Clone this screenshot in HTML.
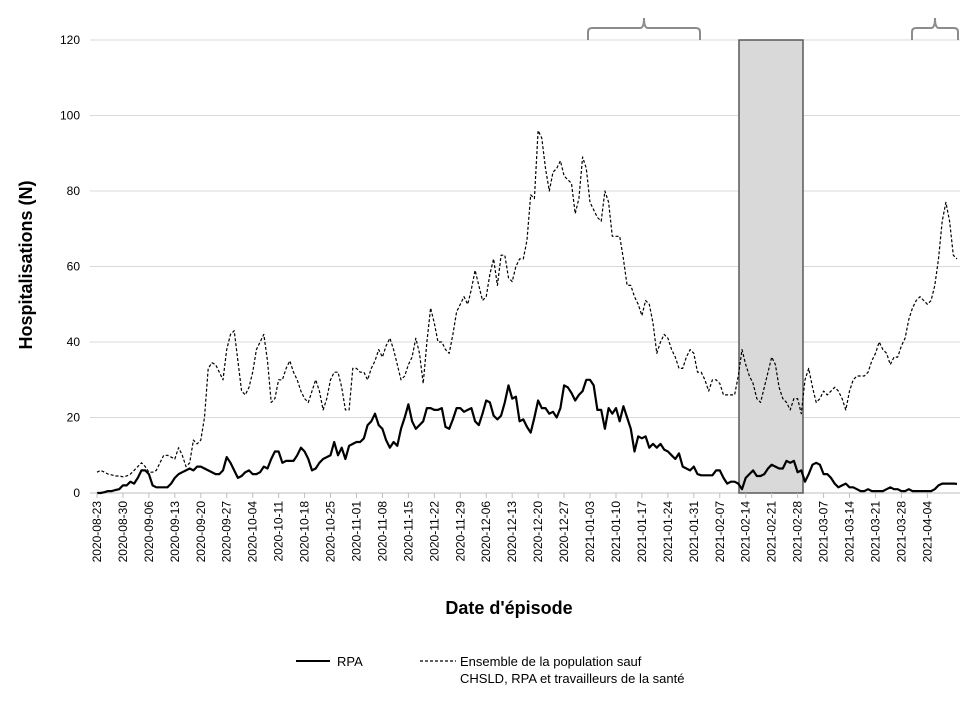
<!DOCTYPE html>
<html><head><meta charset="utf-8"><style>
body{margin:0;background:#fff;font-family:"Liberation Sans",sans-serif}
svg text{font-family:"Liberation Sans",sans-serif}
</style></head><body>
<svg id="chart" width="980" height="706" viewBox="0 0 980 706" xmlns="http://www.w3.org/2000/svg">
<g id="grid"></g>
<rect x="739" y="40" width="64" height="453" fill="#d9d9d9" stroke="#595959" stroke-width="1.5"/>
<path d="M588,40 V32 Q588,28 592,28 H640 Q644,28 644,18 Q644,28 648,28 H696 Q700,28 700,32 V40" fill="none" stroke="#8c8c8c" stroke-width="2"/>
<path d="M912,40 V32 Q912,28 916,28 H931 Q935,28 935,18 Q935,28 939,28 H954 Q958,28 958,32 V40" fill="none" stroke="#8c8c8c" stroke-width="2"/>
<g id="series"></g>
<g id="xlabels"></g>
<text transform="translate(32,265) rotate(-90)" text-anchor="middle" font-size="18" font-weight="bold">Hospitalisations (N)</text>
<text x="509" y="614" text-anchor="middle" font-size="18" font-weight="bold">Date d'épisode</text>
<g>
<line x1="296" y1="661" x2="330" y2="661" stroke="#000" stroke-width="2"/>
<text x="337" y="666" font-size="13">RPA</text>
<line x1="420" y1="661" x2="456" y2="661" stroke="#000" stroke-width="1.2" stroke-dasharray="3,2"/>
<text x="460" y="666" font-size="13">Ensemble de la population sauf</text>
<text x="460" y="683" font-size="13">CHSLD, RPA et travailleurs de la santé</text>
</g>
</svg>
<script>
const yTicks=[0,20,40,60,80,100,120];
const xTickLabels=["2020-08-23","2020-08-30","2020-09-06","2020-09-13","2020-09-20","2020-09-27","2020-10-04","2020-10-11","2020-10-18","2020-10-25","2020-11-01","2020-11-08","2020-11-15","2020-11-22","2020-11-29","2020-12-06","2020-12-13","2020-12-20","2020-12-27","2021-01-03","2021-01-10","2021-01-17","2021-01-24","2021-01-31","2021-02-07","2021-02-14","2021-02-21","2021-02-28","2021-03-07","2021-03-14","2021-03-21","2021-03-28","2021-04-04"];
const rpa=[0,0,0.2,0.5,0.5,0.8,1, 2,2,3,2.5,4,6,6, 5,2,1.5,1.5,1.5,1.5,2.5, 4,5,5.5,6,6.5,6,7, 7,6.5,6,5.5,5,5,6, 9.5,8,6,4,4.5,5.5,6, 5,5,5.5,7,6.5,9,11, 11,8,8.5,8.5,8.5,10,12, 11,9,6,6.5,8,9,9.5, 10,13.5,10,12,9,12.5,13, 13.5,13.5,14.5,18,19,21,18, 17,14,12,13.5,12.5,17,20, 23.5,19,17,18,19,22.5,22.5, 22,22,22.5,17.5,17,19.5,22.5, 22.5,21.5,22,22.5,19,18,21, 24.5,24,20.5,19.5,20.5,24,28.5, 25,25.5,19,19.5,17.5,16,20, 24.5,22.5,22.5,21,21.5,20,22.5, 28.5,28,26.5,24.5,26,27,30, 30,28.5,22,22,17,22.5,21, 22.5,19,23,20,17,11,15, 14.5,15,12,13,12,13,11.5, 11,10,9,10.5,7,6.5,6, 7,5,4.7,4.7,4.7,4.7,6, 6,4,2.5,3,3,2.5,1, 4,5,6,4.5,4.5,5,6.5, 7.5,7,6.5,6.5,8.5,8,8.5, 5.5,6,3,5,7.5,8,7.5, 5,5,4,2.5,1.5,2,2.5, 1.5,1.5,1,0.5,0.5,1,0.5, 0.5,0.5,0.5,1,1.5,1,1, 0.5,0.5,1,0.5,0.5,0.5,0.5, 0.5,0.5,1,2,2.5,2.5,2.5,2.5,2.4];
const population=[5.5,6,5.5,5,4.8,4.5,4.5, 4.3,4.5,5,6,7,8,7, 5.5,5.5,6,8,10,10,9.5, 9,12,10,7,8,14,13, 14,20,33,34.5,34,32,30, 38,42,43,35,27,26,28, 32,38,40,42,35,24,25, 30,30,33,35,32,30,27, 25,24,27,30,27,22,25, 30,32,32,28,22,22,33, 33,32,32,30,33,35,38, 36,39,41,38,34,30,31, 34,36,41,37,29,40,49, 45,40,40,38,37,42,48, 50,52,50,54,59,55,51, 52,58,62,55,63,63,57, 56,60,62,62,67,79,78, 96,94,86,80,85,86,88, 84,83,82,74,78,89,86, 77,75,73,72,80,77,68, 68,68,62,55,55,52,50, 47,51,50,45,37,40,42, 41,38,36,33,33,36,38, 37,32,32,30,27,30,30, 29,26,26,26,26,31,38, 34,31,29,25,24,28,32, 36,34,28,25,24,22,25, 25,21,30,33,28,24,25, 27,26,27,28,27,25,22, 27,30,31,31,31,32,35, 37,40,38,37,34,36,36, 39,41,46,49,51,52,51, 50,51,55,62,72,77,72,63,62];
const NS="http://www.w3.org/2000/svg";
const xS=d=>97+d*3.707;
const yS=v=>493-v*453/120;
const grid=document.getElementById('grid');
yTicks.forEach(t=>{
 const l=document.createElementNS(NS,'line');
 
 
 l.setAttribute('x1',90);l.setAttribute('x2',960);l.setAttribute('y1',yS(t));l.setAttribute('y2',yS(t));
 l.setAttribute('stroke',t===0?'#bfbfbf':'#d9d9d9');l.setAttribute('stroke-width',1);
 grid.appendChild(l);
 const tx=document.createElementNS(NS,'text');
 
 
 tx.setAttribute('x',80);tx.setAttribute('y',yS(t)+4);tx.setAttribute('text-anchor','end');tx.setAttribute('font-size','12');
 tx.textContent=t;grid.appendChild(tx);
});
const xl=document.getElementById('xlabels');
xTickLabels.forEach((s,i)=>{
 const x=xS(i*7);
 const tk=document.createElementNS(NS,'line');
 
 
 tk.setAttribute('x1',x);tk.setAttribute('x2',x);tk.setAttribute('y1',493);tk.setAttribute('y2',498);tk.setAttribute('stroke','#bfbfbf');
 xl.appendChild(tk);
 const tx=document.createElementNS(NS,'text');
 
 
 tx.setAttribute('transform',`translate(${x+4},501) rotate(-90)`);tx.setAttribute('text-anchor','end');tx.setAttribute('font-size','12');
 tx.textContent=s;xl.appendChild(tx);
});
const sg=document.getElementById('series');
function line(arr,name,w,dash){
 const p=document.createElementNS(NS,'polyline');
 
 
 p.setAttribute('points',arr.map((v,i)=>xS(i).toFixed(1)+','+yS(v).toFixed(1)).join(' '));
 p.setAttribute('fill','none');p.setAttribute('stroke','#000');p.setAttribute('stroke-width',w);
 p.setAttribute('stroke-linejoin','round');
 if(dash)p.setAttribute('stroke-dasharray',dash);
 sg.appendChild(p);
}
line(population,'population-line',1.2,'3,2');
line(rpa,'rpa-line',2.2,null);
</script>
</body></html>
